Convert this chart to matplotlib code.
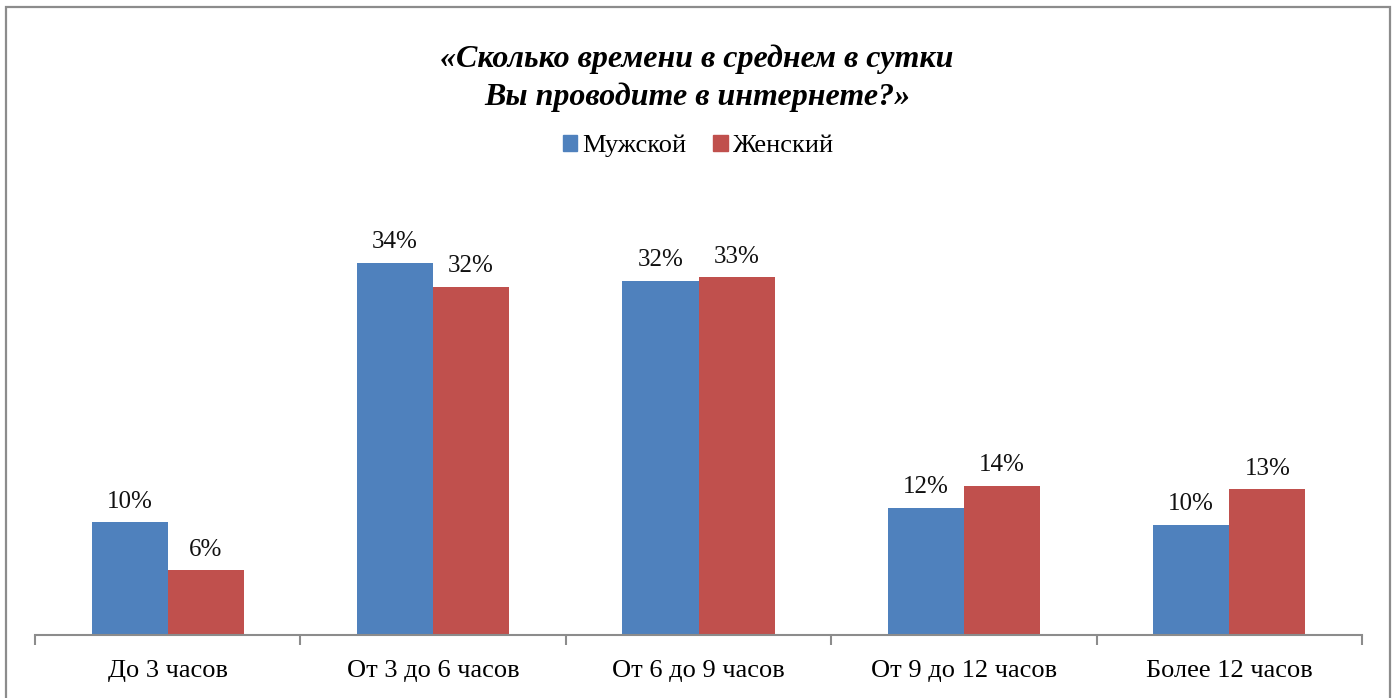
import matplotlib
matplotlib.use("Agg")
import matplotlib.pyplot as plt
import numpy as np
from matplotlib.patches import Rectangle

categories = ["До 3 часов", "От 3 до 6 часов", "От 6 до 9 часов", "От 9 до 12 часов", "Более 12 часов"]
series_names = ["Мужской", "Женский"]
male = [10.3, 34.0, 32.4, 11.6, 10.1]
female = [5.9, 31.8, 32.7, 13.6, 13.3]
colors = ["#4F81BD", "#C0504D"]
title = "«Сколько времени в среднем в сутки\nВы проводите в интернете?»"

plt.rcParams['font.family'] = ['Liberation Serif', 'DejaVu Serif']

W, H = 1397, 698
fig = plt.figure(figsize=(W / 100, H / 100), dpi=100)

# outer chart border
fig.add_artist(Rectangle((6 / W, -0.05), (1390 - 6) / W, 1.05 - 7 / H,
                         transform=fig.transFigure, fill=False,
                         edgecolor="#8C8C8C", linewidth=1.6))

ax_left, ax_right, ax_base = 35, 1362, 635
ymax = 40
px_per = 10.94
ax_top = ax_base - ymax * px_per
ax = fig.add_axes([ax_left / W, (H - ax_base) / H, (ax_right - ax_left) / W, (ax_base - ax_top) / H])

n = len(categories)
x = np.arange(n)
w = 0.287
for i, (vals, c, name) in enumerate(zip([male, female], colors, series_names)):
    pos = x + (i - 0.5) * w
    bars = ax.bar(pos, vals, width=w, color=c, label=name, linewidth=0)
    for b, v in zip(bars, vals):
        ax.annotate(f"{round(v):d}%", (b.get_x() + b.get_width() / 2, v),
                    xytext=(0, 7), textcoords="offset points",
                    ha="center", va="bottom", fontsize=18, color="#111111")

ax.set_xlim(-0.5, n - 0.5)
ax.set_ylim(0, ymax)
for s in ["top", "right", "left"]:
    ax.spines[s].set_visible(False)
ax.spines["bottom"].set_color("#8C8C8C")
ax.spines["bottom"].set_linewidth(1.5)
ax.set_yticks([])
ax.set_xticks(np.arange(-0.5, n, 1.0))
ax.set_xticklabels([])
ax.set_xticks(x, minor=True)
ax.set_xticklabels(categories, minor=True, fontsize=19)
ax.tick_params(axis="x", which="major", length=7, width=1.5, color="#8C8C8C", direction="out")
ax.tick_params(axis="x", which="minor", length=0, pad=18)

fig.text(0.499, 1 - 78 / H, title, ha="center", va="center", fontsize=23,
         fontweight="bold", fontstyle="italic", linespacing=1.38)

handles = [Rectangle((0, 0), 1, 1, color=c) for c in colors]
fig.legend(handles, series_names, loc="center", bbox_to_anchor=(0.5, 1 - 146 / H),
           ncol=2, frameon=False, fontsize=19, handlelength=0.55, handleheight=0.55,
           handletextpad=0.2, columnspacing=1.0)

fig.savefig("out.png", dpi=100)
